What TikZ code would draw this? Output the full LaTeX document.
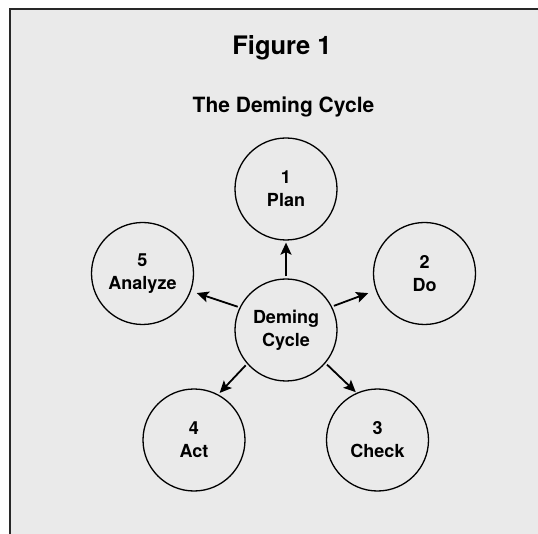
\documentclass[tikz,border=0pt]{standalone}
\usepackage{fontspec}
\setmainfont{TeX Gyre Heros}
\usetikzlibrary{arrows.meta}
\definecolor{bggray}{RGB}{234,234,234}
\definecolor{framegray}{RGB}{40,40,40}
\tikzset{
  circ/.style={circle, draw=black, line width=1.3pt, minimum size=102pt, inner sep=0pt,
    align=center, font=\fontsize{18pt}{23pt}\selectfont\bfseries},
  arr/.style={line width=1.8pt, -{Stealth[length=12pt,width=11pt,inset=2.5pt]}, shorten <=2pt},
  ttl/.style={font=\fontsize{25.5pt}{30pt}\selectfont\bfseries, anchor=base, inner sep=0pt},
  subttl/.style={font=\fontsize{21pt}{25pt}\selectfont\bfseries, anchor=base, inner sep=0pt}
}
\begin{document}
\begin{tikzpicture}[x=1pt,y=-1pt]
\useasboundingbox (0,0) rectangle (538,534);
\fill[white] (0,0) rectangle (538,534);
\fill[bggray] (10,9) rectangle (538,534);
\draw[framegray, line width=1.3pt] (10,534) -- (10,9) -- (538,9);
\node[ttl] (fig) at (282,55) {Figure 1};
\node[subttl] (sub) at (283.5,112.5) {The Deming Cycle};
\node[circ] (dem) at (286,330) {Deming\\Cycle};
\node[circ] (plan) at (286,189) {1\\Plan};
\node[circ] (do) at (424.5,273.5) {2\\Do};
\node[circ] (chk) at (377.5,440) {3\\Check};
\node[circ] (act) at (194,440) {4\\Act};
\node[circ] (ana) at (142.5,273.5) {5\\Analyze};
\draw[arr, shorten >=2pt] (dem.90) -- (plan.270);
\draw[arr, shorten >=8pt] (dem.27) -- (do.199);
\draw[arr, shorten >=6pt] (dem.154) -- (ana.340);
\draw[arr, shorten >=2pt] (dem.221) -- (act.62);
\draw[arr, shorten >=1pt] (dem.320) -- (chk.114);
\end{tikzpicture}
\end{document}
